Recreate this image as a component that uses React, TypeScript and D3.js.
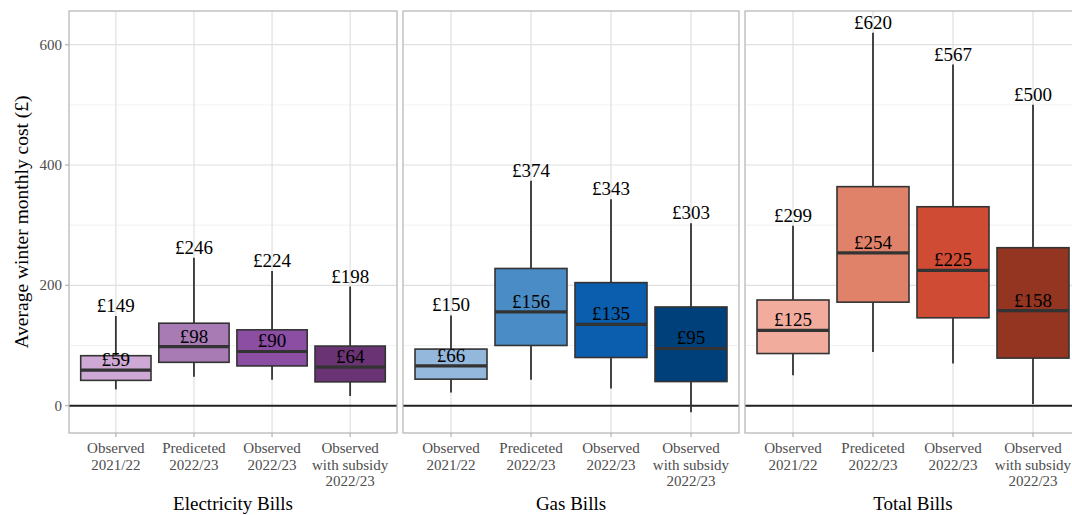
import React from "react";
import * as d3 from "d3";

const categories = ["Observed\n2021/22", "Prediceted\n2022/23", "Observed\n2022/23", "Observed\nwith subsidy\n2022/23"];
const panelTitles = ["Electricity Bills", "Gas Bills", "Total Bills"];

// [lowerWhisker, q1, median, q3, upperWhisker]
const electricity = [
  [27, 42, 59, 83, 149],
  [48, 72, 98, 137, 246],
  [43, 66, 90, 126, 224],
  [16, 39.5, 64, 99, 198],
];
const gas = [
  [22, 44, 66, 94, 150],
  [43, 100, 156, 228, 374],
  [28.5, 80, 135, 204.5, 343],
  [-11, 40, 95, 164, 303],
];
const total = [
  [50.6, 86.6, 125, 175.6, 299],
  [89, 172, 254, 364, 620],
  [70, 146, 225, 330.6, 567],
  [2.5, 79, 158, 262.5, 500],
];
const panelData = [electricity, gas, total];

const elecColors = ["#cfa9d5", "#a87bb5", "#8b4ea3", "#6a3474"];
const gasColors = ["#94b7dc", "#4a8dc6", "#0a5ead", "#00407a"];
const totalColors = ["#f2ac9e", "#e0826a", "#cf4b34", "#943522"];
const panelColors = [elecColors, gasColors, totalColors];

const yTicks = [0, 200, 400, 600];
const yMinor = [100, 300, 500];

const W = 1072;
const H = 515;
const top = 11;
const bottom = 433;
const panelX: [number, number][] = [
  [69, 397],
  [403, 739],
  [745, 1081],
];

const serif = "'Liberation Serif', 'DejaVu Serif', serif";

export default function App() {
  const y = d3.scaleLinear().domain([-45.5, 656]).range([bottom, top]);

  return (
    <svg width={W} height={H} style={{ position: "absolute", left: 0, top: 0, background: "#fff" }} fontFamily={serif}>
      <defs>
        {panelX.map((px, i) => (
          <clipPath id={`clip${i}`} key={i}>
            <rect x={px[0]} y={top} width={px[1] - px[0]} height={bottom - top} />
          </clipPath>
        ))}
      </defs>
      {panelX.map((px, pi) => {
        const xp = d3.scalePoint().domain(categories).range([px[0], px[1]]).padding(0.6);
        const bw = xp.step() * 0.9;
        const data = panelData[pi];
        const cols = panelColors[pi];
        return (
          <g key={pi}>
            <g clipPath={`url(#clip${pi})`}>
              {yMinor.map((t) => (
                <line key={"m" + t} x1={px[0]} x2={px[1]} y1={y(t)} y2={y(t)} stroke="#ededed" strokeWidth={0.7} />
              ))}
              {yTicks.map((t) => (
                <line key={"g" + t} x1={px[0]} x2={px[1]} y1={y(t)} y2={y(t)} stroke="#e0e0e0" strokeWidth={1.2} />
              ))}
              {categories.map((c) => (
                <line key={"v" + c} x1={xp(c)} x2={xp(c)} y1={top} y2={bottom} stroke="#e0e0e0" strokeWidth={1.2} />
              ))}
              <line x1={px[0]} x2={px[1]} y1={y(0)} y2={y(0)} stroke="#222" strokeWidth={2} />
              {data.map((d, i) => {
                const cx = xp(categories[i])!;
                const [lo, q1, med, q3, hi] = d;
                return (
                  <g key={i}>
                    <line x1={cx} x2={cx} y1={y(hi)} y2={y(q3)} stroke="#333" strokeWidth={1.8} />
                    <line x1={cx} x2={cx} y1={y(q1)} y2={y(lo)} stroke="#333" strokeWidth={1.8} />
                    <rect x={cx - bw / 2} y={y(q3)} width={bw} height={y(q1) - y(q3)} fill={cols[i]} stroke="#333" strokeWidth={1.6} />
                    <line x1={cx - bw / 2} x2={cx + bw / 2} y1={y(med)} y2={y(med)} stroke="#333" strokeWidth={3.2} />
                  </g>
                );
              })}
            </g>
            {data.map((d, i) => {
              const cx = xp(categories[i])!;
              const [, , med, , hi] = d;
              return (
                <g key={"l" + i} fontSize={19} fill="#000" textAnchor="middle">
                  <text x={cx} y={y(hi) - 4}>£{Math.round(hi)}</text>
                  <text x={cx} y={y(med) - 4}>£{Math.round(med)}</text>
                </g>
              );
            })}
            <rect x={px[0]} y={top} width={px[1] - px[0]} height={bottom - top} fill="none" stroke="#b3b3b3" strokeWidth={1.2} />
            {categories.map((c) => (
              <g key={"t" + c}>
                <line x1={xp(c)} x2={xp(c)} y1={bottom} y2={bottom + 4} stroke="#b3b3b3" strokeWidth={1.2} />
                <text x={xp(c)} y={bottom + 20} textAnchor="middle" fontSize={15} fill="#4d4d4d">
                  {c.split("\n").map((line, li) => (
                    <tspan key={li} x={xp(c)} dy={li === 0 ? 0 : 16.5}>{line}</tspan>
                  ))}
                </text>
              </g>
            ))}
            <text x={(px[0] + px[1]) / 2} y={510} textAnchor="middle" fontSize={19} fill="#000">{panelTitles[pi]}</text>
          </g>
        );
      })}
      {yTicks.map((t) => (
        <g key={"yt" + t}>
          <line x1={65} x2={69} y1={y(t)} y2={y(t)} stroke="#b3b3b3" strokeWidth={1.2} />
          <text x={62} y={y(t) + 5} textAnchor="end" fontSize={15} fill="#4d4d4d">{t}</text>
        </g>
      ))}
      <text transform={`translate(28,${(top + bottom) / 2}) rotate(-90)`} textAnchor="middle" fontSize={19.5} fill="#000">
        Average winter monthly cost (£)
      </text>
    </svg>
  );
}
